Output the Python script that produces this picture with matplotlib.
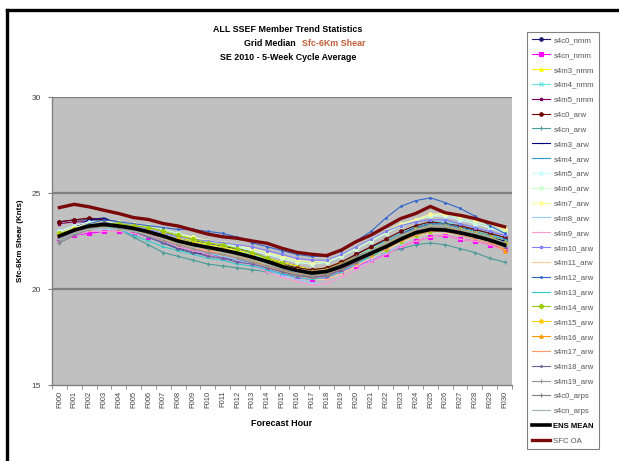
import matplotlib
matplotlib.use("Agg")
import matplotlib.pyplot as plt
from matplotlib.lines import Line2D

plt.rcParams['font.family'] = ['Liberation Sans', 'DejaVu Sans']

hours = ["F%03d" % h for h in range(31)]

s4c0_nmm = [23.5, 23.6, 23.6, 23.6, 23.5, 23.4, 23.2, 23.0, 22.7, 22.5, 22.4, 22.2, 22.1, 21.9, 21.6, 21.4, 21.2, 21.0, 21.1, 21.4, 21.8, 22.2, 22.5, 22.9, 23.2, 23.4, 23.4, 23.2, 23.1, 22.9, 22.6]
s4cn_nmm = [22.6, 22.8, 22.9, 23.0, 23.0, 22.9, 22.7, 22.5, 22.2, 22.0, 21.8, 21.6, 21.5, 21.3, 21.0, 20.8, 20.6, 20.5, 20.6, 20.9, 21.2, 21.5, 21.8, 22.2, 22.5, 22.7, 22.8, 22.6, 22.5, 22.3, 22.1]
s4m3_nmm = [22.9, 23.2, 23.4, 23.5, 23.4, 23.3, 23.1, 22.9, 22.7, 22.5, 22.3, 22.2, 22.0, 21.8, 21.6, 21.4, 21.2, 21.0, 21.1, 21.4, 21.7, 22.1, 22.4, 22.8, 23.1, 23.3, 23.3, 23.1, 23.0, 22.8, 22.5]
s4m4_nmm = [22.7, 23.0, 23.2, 23.3, 23.3, 23.2, 23.0, 22.8, 22.6, 22.4, 22.2, 22.1, 21.9, 21.8, 21.5, 21.3, 21.1, 20.9, 21.0, 21.3, 21.7, 22.1, 22.5, 22.9, 23.3, 23.5, 23.5, 23.3, 23.1, 22.9, 22.6]
s4m5_nmm = [23.4, 23.5, 23.5, 23.4, 23.3, 23.1, 22.9, 22.6, 22.3, 22.1, 21.9, 21.8, 21.6, 21.4, 21.2, 20.9, 20.7, 20.6, 20.7, 21.0, 21.4, 21.8, 22.2, 22.6, 22.9, 23.1, 23.1, 22.9, 22.7, 22.5, 22.2]
s4c0_arw = [23.5, 23.6, 23.7, 23.6, 23.4, 23.2, 23.0, 22.8, 22.5, 22.3, 22.2, 22.0, 21.9, 21.7, 21.5, 21.3, 21.1, 21.0, 21.1, 21.4, 21.8, 22.2, 22.6, 23.0, 23.3, 23.5, 23.4, 23.3, 23.1, 22.9, 22.7]
s4cn_arw = [22.6, 23.0, 23.3, 23.4, 23.1, 22.7, 22.3, 21.9, 21.7, 21.5, 21.3, 21.2, 21.1, 21.0, 20.9, 20.8, 20.7, 20.7, 20.8, 21.1, 21.4, 21.7, 21.9, 22.1, 22.3, 22.4, 22.3, 22.1, 21.9, 21.6, 21.4]
s4m3_arw = [22.9, 23.2, 23.6, 23.7, 23.4, 23.0, 22.7, 22.4, 22.1, 21.9, 21.8, 21.6, 21.5, 21.4, 21.2, 21.0, 20.9, 20.8, 20.9, 21.2, 21.6, 22.0, 22.4, 22.8, 23.1, 23.3, 23.3, 23.1, 22.9, 22.7, 22.5]
s4m4_arw = [22.8, 23.1, 23.4, 23.5, 23.3, 23.0, 22.7, 22.4, 22.2, 22.0, 21.8, 21.7, 21.5, 21.4, 21.2, 21.0, 20.9, 20.8, 20.9, 21.2, 21.6, 22.0, 22.4, 22.8, 23.2, 23.4, 23.4, 23.2, 23.0, 22.8, 22.6]
s4m5_arw = [23.0, 23.3, 23.5, 23.5, 23.4, 23.3, 23.1, 22.9, 22.7, 22.6, 22.4, 22.3, 22.2, 22.0, 21.8, 21.6, 21.4, 21.3, 21.4, 21.7, 22.1, 22.5, 22.9, 23.3, 23.6, 23.8, 23.8, 23.6, 23.4, 23.2, 22.9]
s4m6_arw = [22.9, 23.2, 23.4, 23.5, 23.5, 23.4, 23.3, 23.1, 22.9, 22.7, 22.5, 22.4, 22.2, 22.1, 21.9, 21.6, 21.4, 21.3, 21.4, 21.7, 22.1, 22.5, 22.9, 23.3, 23.6, 23.8, 23.9, 23.7, 23.5, 23.3, 23.0]
s4m7_arw = [22.9, 23.2, 23.4, 23.5, 23.5, 23.4, 23.2, 23.0, 22.8, 22.7, 22.5, 22.4, 22.3, 22.1, 21.9, 21.7, 21.5, 21.4, 21.5, 21.8, 22.2, 22.6, 23.0, 23.4, 23.6, 23.9, 23.9, 23.8, 23.6, 23.4, 23.1]
s4m8_arw = [22.5, 22.8, 23.0, 23.1, 23.1, 23.0, 22.8, 22.6, 22.3, 22.1, 21.9, 21.7, 21.5, 21.3, 21.0, 20.7, 20.5, 20.3, 20.3, 20.6, 21.0, 21.5, 21.9, 22.3, 22.7, 22.9, 22.9, 22.8, 22.6, 22.4, 22.2]
s4m9_arw = [22.6, 22.8, 23.0, 23.0, 23.0, 22.9, 22.7, 22.5, 22.2, 22.0, 21.8, 21.6, 21.4, 21.2, 20.9, 20.6, 20.4, 20.2, 20.3, 20.6, 21.0, 21.4, 21.8, 22.2, 22.5, 22.7, 22.8, 22.6, 22.5, 22.3, 22.0]
s4m10_arw = [22.7, 23.0, 23.2, 23.4, 23.4, 23.3, 23.1, 22.9, 22.7, 22.6, 22.5, 22.4, 22.3, 22.2, 22.0, 21.8, 21.6, 21.5, 21.5, 21.8, 22.2, 22.6, 23.0, 23.3, 23.5, 23.6, 23.6, 23.4, 23.2, 23.0, 22.8]
s4m11_arw = [22.6, 22.9, 23.1, 23.2, 23.1, 23.0, 22.8, 22.6, 22.3, 22.1, 22.0, 21.8, 21.6, 21.4, 21.2, 20.9, 20.7, 20.5, 20.5, 20.8, 21.2, 21.6, 22.0, 22.4, 22.7, 22.9, 22.9, 22.8, 22.6, 22.4, 22.1]
s4m12_arw = [22.8, 23.1, 23.4, 23.6, 23.5, 23.4, 23.3, 23.2, 23.1, 23.1, 23.0, 22.9, 22.7, 22.4, 22.2, 22.0, 21.8, 21.7, 21.7, 22.0, 22.5, 23.0, 23.7, 24.3, 24.6, 24.75, 24.5, 24.2, 23.8, 23.3, 22.9]
s4m13_arw = [22.7, 23.0, 23.3, 23.3, 23.1, 22.8, 22.5, 22.2, 22.0, 21.8, 21.6, 21.5, 21.3, 21.2, 21.0, 20.8, 20.6, 20.5, 20.6, 20.9, 21.3, 21.7, 22.1, 22.5, 22.8, 23.0, 23.0, 22.8, 22.6, 22.4, 22.1]
s4m14_arw = [22.9, 23.1, 23.3, 23.4, 23.4, 23.3, 23.2, 23.0, 22.8, 22.6, 22.4, 22.3, 22.1, 21.9, 21.6, 21.3, 21.0, 20.9, 21.0, 21.2, 21.5, 21.8, 22.1, 22.5, 22.8, 23.0, 23.1, 23.0, 22.8, 22.7, 22.4]
s4m15_arw = [22.8, 23.1, 23.3, 23.4, 23.3, 23.2, 23.0, 22.8, 22.6, 22.4, 22.2, 22.1, 21.9, 21.7, 21.4, 21.2, 21.0, 20.9, 21.0, 21.3, 21.6, 22.0, 22.4, 22.7, 23.1, 23.3, 23.3, 23.1, 22.9, 22.7, 22.4]
s4m16_arw = [22.8, 23.1, 23.2, 23.3, 23.2, 23.1, 22.9, 22.7, 22.4, 22.2, 22.1, 21.9, 21.7, 21.5, 21.2, 21.0, 20.8, 20.7, 20.8, 21.1, 21.4, 21.8, 22.2, 22.6, 23.0, 23.2, 23.2, 23.0, 22.8, 22.5, 22.0]
s4m17_arw = [22.7, 23.0, 23.2, 23.3, 23.2, 23.0, 22.8, 22.6, 22.3, 22.1, 22.0, 21.8, 21.6, 21.4, 21.2, 20.9, 20.7, 20.6, 20.7, 21.0, 21.4, 21.8, 22.1, 22.5, 22.8, 23.0, 23.0, 22.8, 22.6, 22.4, 22.1]
s4m18_arw = [22.6, 23.0, 23.3, 23.5, 23.3, 23.0, 22.7, 22.4, 22.1, 21.9, 21.7, 21.6, 21.4, 21.3, 21.1, 20.9, 20.7, 20.6, 20.7, 21.0, 21.4, 21.8, 22.2, 22.6, 22.9, 23.1, 23.1, 22.9, 22.7, 22.5, 22.2]
s4m19_arw = [22.5, 22.9, 23.2, 23.3, 23.2, 23.0, 22.8, 22.5, 22.3, 22.1, 21.9, 21.8, 21.6, 21.4, 21.2, 21.0, 20.8, 20.7, 20.8, 21.1, 21.5, 21.9, 22.3, 22.7, 23.0, 23.2, 23.2, 23.0, 22.8, 22.6, 22.3]
s4c0_arps = [22.4, 22.8, 23.1, 23.3, 23.2, 23.1, 22.9, 22.7, 22.5, 22.3, 22.1, 22.0, 21.8, 21.6, 21.4, 21.2, 21.0, 20.9, 21.0, 21.3, 21.7, 22.0, 22.4, 22.8, 23.1, 23.3, 23.3, 23.1, 22.9, 22.7, 22.4]
s4cn_arps = [22.6, 22.9, 23.1, 23.2, 23.1, 23.0, 22.8, 22.6, 22.4, 22.2, 22.1, 21.9, 21.7, 21.5, 21.3, 21.1, 20.9, 20.8, 20.9, 21.2, 21.6, 22.0, 22.4, 22.8, 23.1, 23.3, 23.3, 23.1, 22.9, 22.7, 22.4]
ens_mean = [22.76, 23.07, 23.28, 23.36, 23.28, 23.16, 22.98, 22.76, 22.50, 22.32, 22.17, 22.03, 21.86, 21.66, 21.43, 21.17, 20.97, 20.83, 20.91, 21.17, 21.52, 21.86, 22.20, 22.59, 22.93, 23.10, 23.07, 22.93, 22.76, 22.55, 22.29]
sfc_oa = [24.24, 24.41, 24.28, 24.10, 23.93, 23.72, 23.62, 23.41, 23.28, 23.07, 22.86, 22.72, 22.64, 22.50, 22.38, 22.12, 21.91, 21.81, 21.74, 22.03, 22.47, 22.81, 23.24, 23.67, 23.93, 24.30, 23.97, 23.84, 23.67, 23.45, 23.24]

members = [
    ("s4c0_nmm", s4c0_nmm, "#1a1a70", "o"),
    ("s4cn_nmm", s4cn_nmm, "#ff00ff", "s"),
    ("s4m3_nmm", s4m3_nmm, "#ffff00", "^"),
    ("s4m4_nmm", s4m4_nmm, "#66e0e0", "x"),
    ("s4m5_nmm", s4m5_nmm, "#800060", "*"),
    ("s4c0_arw", s4c0_arw, "#700000", "o"),
    ("s4cn_arw", s4cn_arw, "#4a9a9a", "+"),
    ("s4m3_arw", s4m3_arw, "#000080", "_"),
    ("s4m4_arw", s4m4_arw, "#3399cc", "_"),
    ("s4m5_arw", s4m5_arw, "#ccffff", "o"),
    ("s4m6_arw", s4m6_arw, "#ccffcc", "o"),
    ("s4m7_arw", s4m7_arw, "#ffff99", "o"),
    ("s4m8_arw", s4m8_arw, "#99ccff", "_"),
    ("s4m9_arw", s4m9_arw, "#ff99cc", "_"),
    ("s4m10_arw", s4m10_arw, "#8080ff", "*"),
    ("s4m11_arw", s4m11_arw, "#ffcc99", "_"),
    ("s4m12_arw", s4m12_arw, "#3366cc", "."),
    ("s4m13_arw", s4m13_arw, "#33cccc", "_"),
    ("s4m14_arw", s4m14_arw, "#99cc00", "D"),
    ("s4m15_arw", s4m15_arw, "#ffcc00", "o"),
    ("s4m16_arw", s4m16_arw, "#ff9900", "^"),
    ("s4m17_arw", s4m17_arw, "#ff9966", "_"),
    ("s4m18_arw", s4m18_arw, "#666699", "."),
    ("s4m19_arw", s4m19_arw, "#969696", "+"),
    ("s4c0_arps", s4c0_arps, "#808080", "+"),
    ("s4cn_arps", s4cn_arps, "#a0b4b4", "_"),
]

fig = plt.figure(figsize=(6.19, 4.61), dpi=100)
fig.patch.set_facecolor("white")
ax = fig.add_axes([52/619, 1-385/461, 460/619, 288/461])
ax.set_facecolor("#c0c0c0")

x = list(range(len(hours)))
for name, vals, col, mk in members:
    ax.plot(x, vals, color=col, lw=0.8, marker=mk, ms=2.5, mew=0.8, label=name, zorder=3)
ax.plot(x, ens_mean, color="black", lw=2.6, label="ENS MEAN", zorder=4)
ax.plot(x, sfc_oa, color="#7a0a0a", lw=2.4, label="SFC OA", zorder=4)

ax.set_xlim(-0.5, 30.5)
ax.set_ylim(15, 30)
ax.set_yticks([15, 20, 25, 30])
ax.set_yticklabels(["15", "20", "25", "30"], fontsize=6, color="#444444")
for yv in [20, 25, 30]:
    ax.axhline(yv, color="#808080", lw=1.6, zorder=1)
ax.set_xticks(x)
ax.set_xticklabels(hours, rotation=90, fontsize=5.5, color="#444444")
ax.tick_params(axis="x", length=0, pad=4)
ax.set_xticks([i - 0.5 for i in range(32)], minor=True)
ax.tick_params(axis="x", which="minor", length=3, color="#808080", direction="out")
ax.tick_params(axis="y", length=3, color="#808080", direction="out", pad=5)
for s in ["top", "right"]:
    ax.spines[s].set_visible(False)
for s in ["left", "bottom"]:
    ax.spines[s].set_color("#808080")
    ax.spines[s].set_linewidth(1.0)

ax.set_xlabel("Forecast Hour", fontsize=6.5, fontweight="bold", labelpad=8)
ax.set_ylabel("Sfc-6Km Shear (Knts)", fontsize=5.8, fontweight="bold", labelpad=5)

# titles
fs_t = 6.4
fig.text(288/619, 1-30/461, "ALL SSEF Member Trend Statistics", ha="center", va="center",
         fontsize=fs_t, fontweight="bold")
fig.text(301/619, 1-44/461, "Grid Median  ", ha="right", va="center", fontsize=fs_t, fontweight="bold")
fig.text(302/619, 1-44/461, "Sfc-6Km Shear", ha="left", va="center", fontsize=fs_t,
         fontweight="bold", color="#c0603a")
fig.text(288/619, 1-57/461, "SE 2010 - 5-Week Cycle Average", ha="center", va="center",
         fontsize=fs_t, fontweight="bold")

leg = fig.legend(loc="upper left", bbox_to_anchor=(527/619, 1-32/461), fontsize=5.6,
                 frameon=True, fancybox=False, edgecolor="#808080", framealpha=1,
                 labelspacing=0.95, handlelength=2.4, handletextpad=0.4, borderpad=0.6,
                 borderaxespad=0)
leg.get_frame().set_linewidth(0.8)
for t in leg.get_texts():
    t.set_color("#555555")
    if t.get_text() == "ENS MEAN":
        t.set_fontweight("bold")
        t.set_color("black")

# outer frame (top and left edges visible)
fig.add_artist(Line2D([7/619, 7/619], [0, 1-10/461], transform=fig.transFigure, color="black", lw=2.4))
fig.add_artist(Line2D([7/619, 1.0], [1-10/461, 1-10/461], transform=fig.transFigure, color="black", lw=2.4))

fig.savefig("out.png", dpi=100)
